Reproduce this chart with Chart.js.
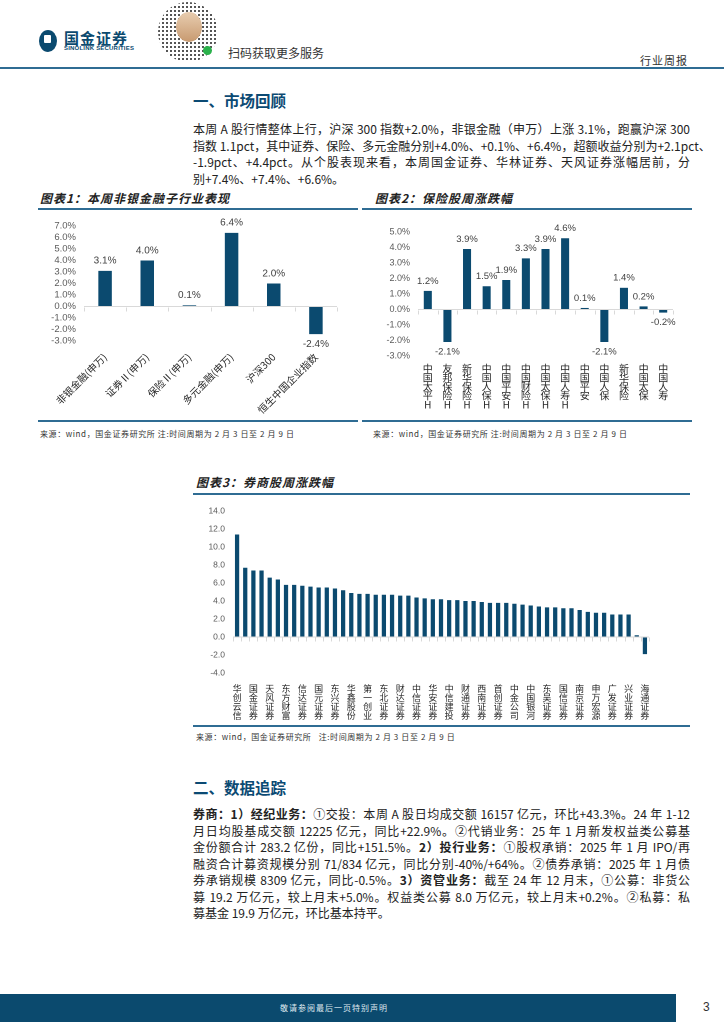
<!DOCTYPE html>
<html>
<head>
<meta charset="utf-8">
<script src="https://cdn.jsdelivr.net/npm/chart.js@4.4.1/dist/chart.umd.min.js"></script>
<style>
body{margin:0;width:724px;height:1024px;position:relative;background:#fff;font-family:"Noto Sans CJK SC",sans-serif;color:#222;overflow:hidden}
.abs{position:absolute}
.hline{position:absolute;height:1.5px;background:#2f6c93}
.h1{position:absolute;left:193px;font-size:15.5px;font-weight:bold;color:#0b4a73}
.para{position:absolute;left:193px;width:497px;font-size:12px;line-height:16.5px;color:#222}
.para div{text-align:justify;text-align-last:justify;white-space:nowrap}
.para div.last{text-align-last:left}
.ttl{position:absolute;font-size:12px;font-weight:bold;font-style:italic;color:#222;letter-spacing:1px}
.src{position:absolute;font-size:8px;color:#333;letter-spacing:0.6px}
.box{position:absolute}
</style>
</head>
<body>
<!-- header -->
<div class="abs" style="left:39px;top:30px;width:18px;height:22px;border-radius:50%;background:#0b4a6f"></div>
<div class="abs" style="left:44px;top:35px;width:7px;height:8px;background:#fff;border-radius:1px"></div>
<div class="abs" style="left:64px;top:27px;font-size:15px;font-weight:bold;color:#0b4a6f;letter-spacing:1px">国金证券</div>
<div class="abs" style="left:64px;top:45px;font-size:6px;font-weight:bold;color:#0b4a6f;font-family:'Liberation Sans';letter-spacing:0.2px">SINOLINK SECURITIES</div>
<div class="abs" style="left:158px;top:2px;width:60px;height:60px;border-radius:50%;background:repeating-linear-gradient(0deg,#fff 0 2px,transparent 2px 4px),repeating-linear-gradient(90deg,#555 0 2px,#fff 2px 4px)"></div>
<div class="abs" style="left:176px;top:12px;width:26px;height:30px;border-radius:50%;background:linear-gradient(#e8cdb0,#c89a70)"></div>
<div class="abs" style="left:203px;top:46px;width:9px;height:9px;border-radius:50%;background:#2bb24c"></div>
<div class="abs" style="left:228px;top:44px;font-size:12px;color:#333">扫码获取更多服务</div>
<div class="abs" style="left:640px;top:52px;font-size:11px;color:#333;letter-spacing:1px">行业周报</div>
<div class="hline" style="left:0;top:67px;width:724px"></div>

<div class="h1" style="top:89px">一、市场回顾</div>
<div class="para" style="top:121px">
<div>本周 A 股行情整体上行，沪深 300 指数+2.0%，非银金融（申万）上涨 3.1%，跑赢沪深 300</div>
<div>指数 1.1pct，其中证券、保险、多元金融分别+4.0%、+0.1%、+6.4%，超额收益分别为+2.1pct、</div>
<div>-1.9pct、+4.4pct。从个股表现来看，本周国金证券、华林证券、天风证券涨幅居前，分</div>
<div class="last">别+7.4%、+7.4%、+6.6%。</div>
</div>

<!-- chart 1 -->
<div class="ttl" style="left:40px;top:189px">图表1：本周非银金融子行业表现</div>
<div class="hline" style="left:38px;top:208px;width:320px"></div>
<div class="box" style="left:40px;top:210px"><canvas id="c1" width="305" height="205"></canvas></div>
<div class="hline" style="left:38px;top:420px;width:320px"></div>
<div class="src" style="left:40px;top:428px">来源：wind，国金证券研究所 注:时间周期为 2 月 3 日至 2 月 9 日</div>

<!-- chart 2 -->
<div class="ttl" style="left:375px;top:189px">图表2：保险股周涨跌幅</div>
<div class="hline" style="left:362px;top:208px;width:330px"></div>
<div class="box" style="left:362px;top:210px"><canvas id="c2" width="318" height="205"></canvas></div>
<div class="hline" style="left:362px;top:420px;width:330px"></div>
<div class="src" style="left:373px;top:428px">来源：wind，国金证券研究所 注:时间周期为 2 月 3 日至 2 月 9 日</div>

<!-- chart 3 -->
<div class="ttl" style="left:196px;top:473px">图表3：券商股周涨跌幅</div>
<div class="hline" style="left:193px;top:493px;width:497px"></div>
<div class="box" style="left:193px;top:498px"><canvas id="c3" width="465" height="225"></canvas></div>
<div class="hline" style="left:193px;top:725px;width:497px"></div>
<div class="src" style="left:196px;top:731px">来源：wind，国金证券研究所&nbsp;&nbsp; 注:时间周期为 2 月 3 日至 2 月 9 日</div>

<div class="h1" style="top:776px">二、数据追踪</div>
<div class="para" style="top:806px">
<div><b>券商：1）经纪业务：</b>①交投：本周 A 股日均成交额 16157 亿元，环比+43.3%。24 年 1-12</div>
<div>月日均股基成交额 12225 亿元，同比+22.9%。②代销业务：25 年 1 月新发权益类公募基</div>
<div>金份额合计 283.2 亿份，同比+151.5%。<b>2）投行业务：</b>①股权承销：2025 年 1 月 IPO/再</div>
<div>融资合计募资规模分别 71/834 亿元，同比分别-40%/+64%。②债券承销：2025 年 1 月债</div>
<div>券承销规模 8309 亿元，同比-0.5%。<b>3）资管业务：</b>截至 24 年 12 月末，①公募：非货公</div>
<div>募 19.2 万亿元，较上月末+5.0%。权益类公募 8.0 万亿元，较上月末+0.2%。②私募：私</div>
<div class="last">募基金 19.9 万亿元，环比基本持平。</div>
</div>

<!-- footer -->
<div class="abs" style="left:0;top:994px;width:676px;height:28px;background:#0b4a6e"></div>
<div class="abs" style="left:280px;top:1002px;font-size:8px;color:#dfe8ee;letter-spacing:1px">敬请参阅最后一页特别声明</div>
<div class="abs" style="left:703px;top:1000px;font-size:12px;color:#333;font-family:'Liberation Sans'">3</div>

<script>
// 图表1 非银子行业
const sectorNames = ['非银金融(申万)', '证券Ⅱ(申万)', '保险Ⅱ(申万)', '多元金融(申万)', '沪深300', '恒生中国企业指数'];
const sectorChange = [3.1, 4.0, 0.1, 6.4, 2.0, -2.4];

// 图表2 保险股
const insurerNames = ['中国太平H', '友邦保险H', '新华保险H', '中国人保H', '中国平安H', '中国财险H', '中国太保H',
    '中国人寿H', '中国平安', '中国人保', '新华保险', '中国太保', '中国人寿'];
const insurerChange = [1.2, -2.1, 3.9, 1.5, 1.9, 3.3, 3.9, 4.6, 0.1, -2.1, 1.4, 0.2, -0.2];

// 图表3 券商股 (only every other name is printed on the axis)
const brokerNames = ['华创云信', '', '国金证券', '', '天风证券', '', '东方财富', '', '信达证券', '', '国元证券', '',
    '东兴证券', '', '华鑫股份', '', '第一创业', '', '东北证券', '', '财达证券', '', '中信证券', '', '华安证券', '',
    '中信建投', '', '财通证券', '', '西南证券', '', '首创证券', '', '中金公司', '', '中国银河', '', '东吴证券', '',
    '国信证券', '', '南京证券', '', '申万宏源', '', '广发证券', '', '兴业证券', '', '海通证券'];
const brokerChange = [11.4, 7.7, 7.4, 7.4, 6.6, 6.4, 5.8, 5.8, 5.7, 5.6, 5.5, 5.5, 5.4, 5.2, 4.9, 4.8, 4.8,
    4.7, 4.7, 4.7, 4.6, 4.6, 4.4, 4.3, 4.2, 4.2, 4.1, 4.1, 4.0, 4.0, 3.9, 3.8, 3.8, 3.8, 3.7, 3.6, 3.5, 3.4,
    3.3, 3.3, 3.2, 3.2, 3.0, 2.8, 2.7, 2.7, 2.5, 2.5, 2.5, 0.2, -1.9];

const BAR = '#0b4a6f';
const GRID = '#d9d9d9';

// labels on top / under each bar
const valueLabels = {
    id: 'valueLabels',
    afterDatasetsDraw(chart, args, opts) {
        if (!opts.show) return;
        const ctx = chart.ctx;
        const data = chart.data.datasets[0].data;
        ctx.save();
        ctx.font = opts.font;
        ctx.fillStyle = '#404040';
        ctx.textAlign = 'center';
        chart.getDatasetMeta(0).data.forEach((bar, i) => {
            const v = data[i];
            const txt = v.toFixed(1) + '%';
            if (v >= 0) {
                ctx.textBaseline = 'bottom';
                ctx.fillText(txt, bar.x, bar.y - opts.gap);
            } else {
                ctx.textBaseline = 'top';
                ctx.fillText(txt, bar.x, bar.y + opts.gap);
            }
        });
        ctx.restore();
    }
};

// small tick marks on the zero line between categories
const zeroTicks = {
    id: 'zeroTicks',
    beforeDatasetsDraw(chart) {
        const xs = chart.scales.x, ys = chart.scales.y;
        const y0 = Math.round(ys.getPixelForValue(0)) + 0.5;
        const ctx = chart.ctx;
        ctx.save();
        ctx.strokeStyle = GRID;
        ctx.lineWidth = 1;
        ctx.beginPath();
        for (let i = 0; i <= chart.data.labels.length; i++) {
            const px = Math.round(xs.getPixelForValue(i - 0.5)) + 0.5;
            ctx.moveTo(px, y0);
            ctx.lineTo(px, y0 + 4);
        }
        ctx.stroke();
        ctx.restore();
    }
};

function makeChart(id, cfg) {
    return new Chart(document.getElementById(id), {
        type: 'bar',
        data: {
            labels: cfg.labels,
            datasets: [{
                data: cfg.values,
                backgroundColor: BAR,
                categoryPercentage: 1,
                barPercentage: cfg.barPct
            }]
        },
        options: {
            responsive: false,
            animation: false,
            devicePixelRatio: 2,
            layout: { padding: { top: cfg.padTop, right: cfg.padRight, left: 0, bottom: 0 } },
            plugins: {
                legend: { display: false },
                tooltip: { enabled: false },
                valueLabels: { show: cfg.showValues, font: cfg.valueFont, gap: cfg.gap }
            },
            scales: {
                x: {
                    grid: { display: false },
                    border: { display: false },
                    ticks: {
                        autoSkip: false,
                        minRotation: cfg.rotation,
                        maxRotation: cfg.rotation,
                        padding: cfg.xPad,
                        color: '#262626',
                        font: { family: '"Noto Sans CJK SC"', size: cfg.xFont, lineHeight: cfg.xLine }
                    },
                    afterFit(s) { s.height = cfg.xHeight; }
                },
                y: {
                    min: cfg.min,
                    max: cfg.max,
                    border: { display: false },
                    grid: {
                        drawTicks: false,
                        color: c => (c.tick && c.tick.value === 0 ? GRID : 'rgba(0,0,0,0)')
                    },
                    ticks: {
                        autoSkip: false,
                        stepSize: cfg.step,
                        padding: 8,
                        color: '#595959',
                        font: { family: '"Liberation Sans"', size: cfg.yFont },
                        callback: v => v.toFixed(1) + cfg.suffix
                    },
                    afterFit(s) { s.width = cfg.yWidth; }
                }
            }
        },
        plugins: [zeroTicks, valueLabels]
    });
}

const vertical = names => names.map(n => Array.from(n));

makeChart('c1', {
    labels: sectorNames, values: sectorChange, barPct: 0.32,
    padTop: 16, padRight: 8, yWidth: 44, xHeight: 74,
    min: -3, max: 7, step: 1, suffix: '%', yFont: 9.5,
    rotation: 45, xPad: 2, xFont: 10, xLine: 1.2,
    showValues: true, valueFont: '10px "Liberation Sans"', gap: 5
});

makeChart('c2', {
    labels: vertical(insurerNames), values: insurerChange, barPct: 0.41,
    padTop: 22, padRight: 7, yWidth: 56, xHeight: 59,
    min: -3, max: 5, step: 1, suffix: '%', yFont: 9,
    rotation: 0, xPad: 0, xFont: 10, xLine: 0.9,
    showValues: true, valueFont: '9.5px "Liberation Sans"', gap: 5
});

makeChart('c3', {
    labels: vertical(brokerNames), values: brokerChange, barPct: 0.52,
    padTop: 11, padRight: 9, yWidth: 40, xHeight: 50,
    min: -4, max: 14, step: 2, suffix: '', yFont: 8.5,
    rotation: 0, xPad: 3, xFont: 9, xLine: 1.0,
    showValues: false
});
</script>
</body>
</html>
